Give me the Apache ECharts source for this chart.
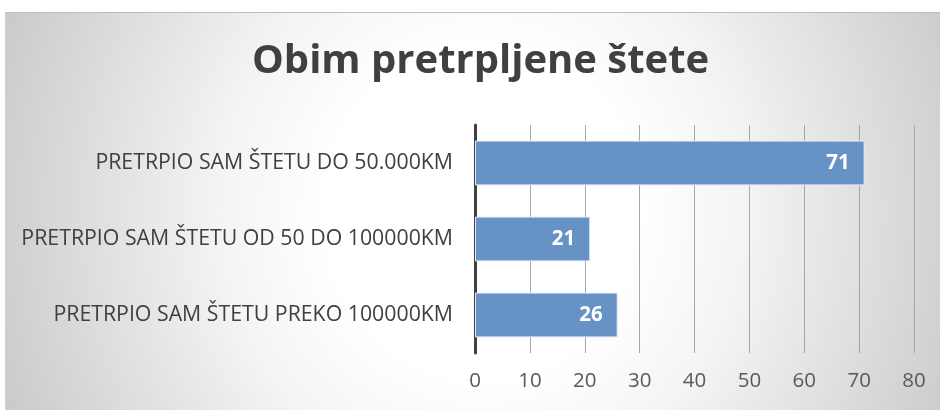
<!DOCTYPE html>
<html><head><meta charset="utf-8">
<script src="https://cdn.jsdelivr.net/npm/echarts@6/dist/echarts.min.js"></script>
<style>
html,body{margin:0;padding:0;background:#fff;width:940px;height:410px;overflow:hidden;}
#c{position:absolute;left:5px;top:12px;width:935px;height:398px;border-left:1px solid #d0d0d0;border-top:1px solid #bdbdbd;box-sizing:border-box;
  background:radial-gradient(ellipse 56% 140% at 51% 50%, #ffffff 30%, #f4f4f4 50%, #c8c8c8 100%);}
</style></head>
<body><div id="c"></div>
<script>
var titleText = 'Obim pretrpljene štete';
var categories = ['PRETRPIO SAM ŠTETU DO 50.000KM', 'PRETRPIO SAM ŠTETU OD 50 DO 100000KM', 'PRETRPIO SAM ŠTETU PREKO 100000KM'];
var values = [71, 21, 26];
var axisMin = 0, axisMax = 80, axisStep = 10;

var chart = echarts.init(document.getElementById('c'));
chart.setOption({
  backgroundColor: 'transparent',
  title: {text: titleText, left: 241, top: 24,
    textStyle:{fontFamily:'Open Sans', fontWeight:'bold', fontSize:40, color:'#404040'}},
  grid: {left: 469, right: 26, top: 112, bottom: 57},
  xAxis: {type:'value', min:axisMin, max:axisMax, interval:axisStep,
    axisLine:{show:false}, axisTick:{show:false},
    axisLabel:{color:'#595959', fontSize:20.5, fontFamily:'Open Sans', margin:18},
    splitLine:{lineStyle:{color:'#a6a6a6', width:1}}},
  yAxis: {type:'category', data: categories, inverse:true,
    axisLine:{lineStyle:{color:'#404040', width:3}}, axisTick:{show:false},
    axisLabel:{color:'#404040', fontSize:21.3, fontFamily:'Open Sans', margin:22}},
  series: [{type:'bar', data: values, barWidth:'59%',
    itemStyle:{color:'#6792c6', borderColor:'#e4ecf6', borderWidth:1},
    label:{show:true, position:'insideRight', distance:15, color:'#ffffff', fontWeight:'bold', fontSize:20.5, fontFamily:'Open Sans'}}],
  animation:false
});
</script></body></html>
